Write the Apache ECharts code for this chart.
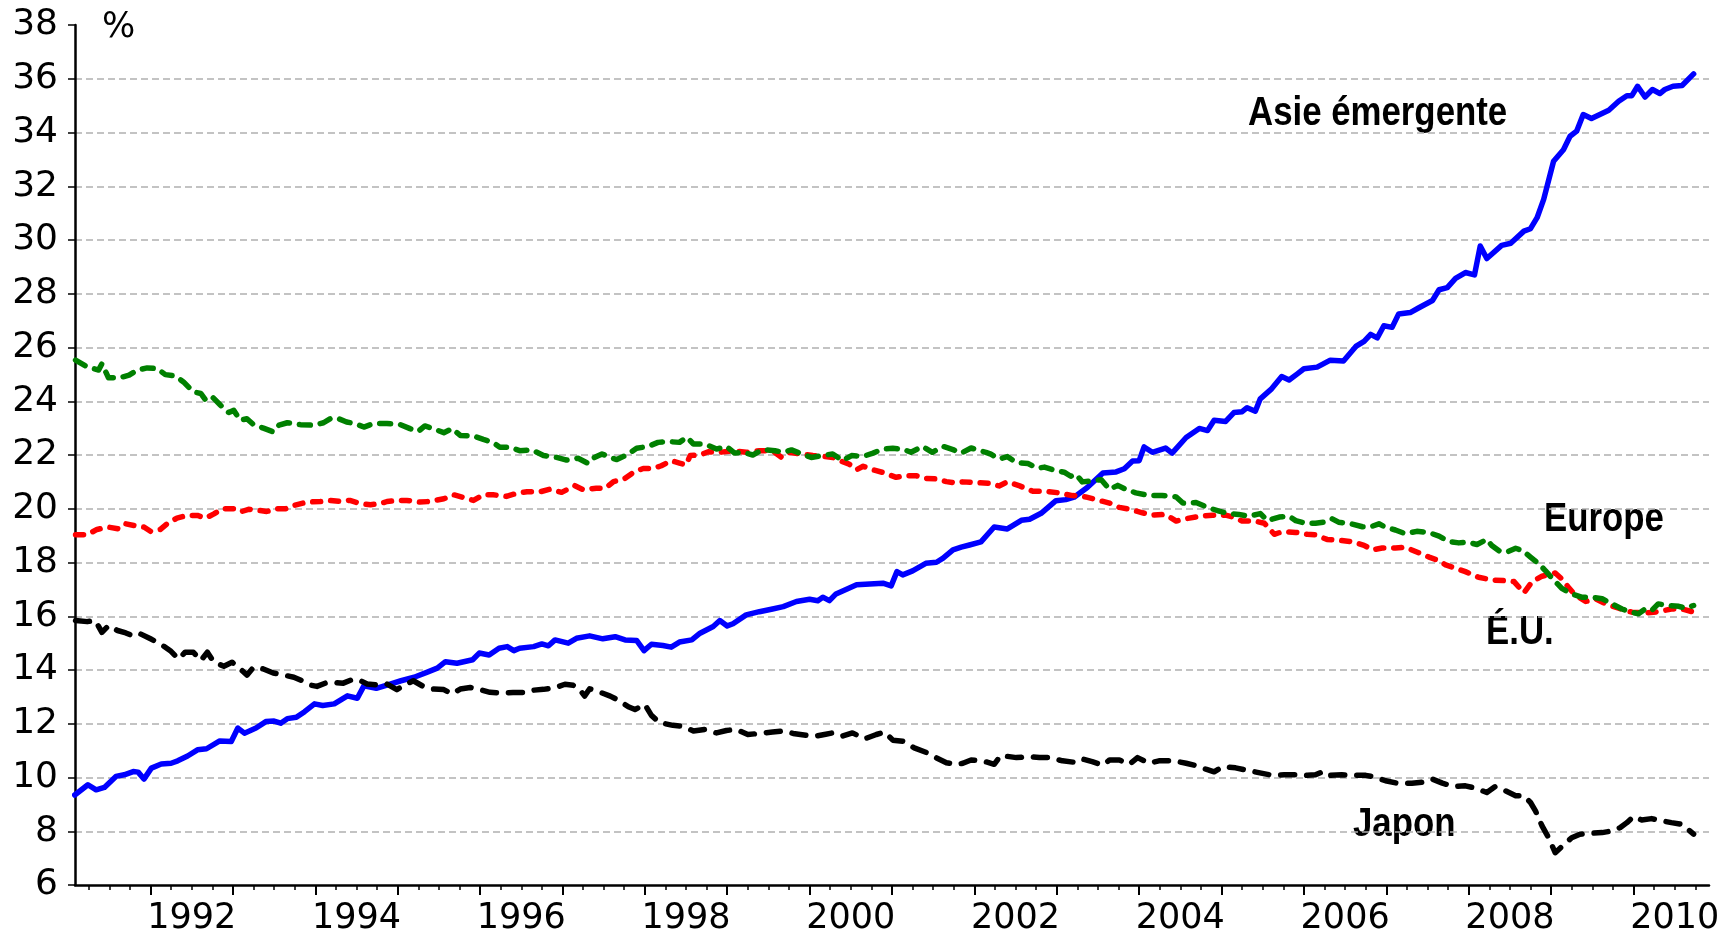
<!DOCTYPE html>
<html><head><meta charset="utf-8">
<script src="https://cdn.jsdelivr.net/npm/echarts@6/dist/echarts.min.js"></script>
<style>html,body{margin:0;padding:0;background:#fff}#chart{width:1733px;height:942px}</style>
</head><body><div id="chart"></div>
<script>
// ---- Data: [year (decimal), percent] ----
const asieEmergente = [
[1991.08,9.35],[1991.24,9.73],[1991.34,9.54],[1991.44,9.63],[1991.58,10.04],[1991.68,10.10],[1991.79,10.22],[1991.85,10.20],[1991.92,9.94],
[1992.01,10.35],[1992.13,10.50],[1992.25,10.53],[1992.33,10.62],[1992.45,10.80],[1992.57,11.03],[1992.68,11.07],[1992.84,11.36],[1992.98,11.34],
[1993.06,11.84],[1993.14,11.65],[1993.28,11.84],[1993.40,12.08],[1993.50,12.10],[1993.58,12.02],[1993.66,12.19],[1993.77,12.24],[1993.87,12.45],[1993.99,12.74],
[1994.09,12.68],[1994.23,12.74],[1994.39,13.04],[1994.51,12.95],[1994.59,13.41],[1994.74,13.32],[1994.88,13.45],
[1995.04,13.60],[1995.20,13.73],[1995.36,13.92],[1995.48,14.07],[1995.58,14.31],[1995.72,14.25],[1995.91,14.38],[1995.99,14.63],
[1996.11,14.56],[1996.23,14.81],[1996.33,14.87],[1996.41,14.72],[1996.48,14.81],[1996.65,14.87],[1996.75,14.97],[1996.83,14.90],[1996.91,15.12],
[1997.07,15.00],[1997.17,15.18],[1997.33,15.27],[1997.49,15.16],[1997.64,15.24],[1997.76,15.12],[1997.90,15.10],[1997.99,14.72],
[1998.08,14.96],[1998.22,14.91],[1998.32,14.85],[1998.42,15.04],[1998.57,15.12],[1998.67,15.37],[1998.83,15.62],[1998.91,15.84],[1999.00,15.64],
[1999.07,15.72],[1999.23,16.05],[1999.39,16.17],[1999.55,16.27],[1999.68,16.36],[1999.84,16.55],[2000.00,16.63],
[2000.10,16.58],[2000.16,16.71],[2000.24,16.58],[2000.32,16.83],[2000.57,17.17],[2000.73,17.20],[2000.89,17.23],[2000.99,17.13],
[2001.06,17.66],[2001.13,17.54],[2001.25,17.69],[2001.41,17.97],[2001.54,18.01],[2001.62,18.16],[2001.74,18.47],[2001.84,18.57],[2001.94,18.65],
[2002.08,18.77],[2002.24,19.32],[2002.40,19.25],[2002.57,19.57],[2002.67,19.61],[2002.81,19.83],[2002.99,20.30],
[2003.11,20.34],[2003.21,20.43],[2003.37,20.79],[2003.56,21.33],[2003.72,21.37],[2003.82,21.49],[2003.92,21.78],[2004.00,21.79],
[2004.06,22.30],[2004.16,22.10],[2004.32,22.26],[2004.40,22.07],[2004.57,22.65],[2004.73,22.99],[2004.83,22.91],[2004.91,23.29],
[2005.05,23.25],[2005.15,23.58],[2005.25,23.61],[2005.31,23.76],[2005.41,23.63],[2005.47,24.09],[2005.60,24.44],[2005.73,24.92],[2005.82,24.79],[2005.92,25.02],
[2006.00,25.21],[2006.16,25.27],[2006.32,25.53],[2006.48,25.50],[2006.63,26.04],[2006.73,26.23],[2006.81,26.49],[2006.89,26.36],[2006.97,26.81],
[2007.07,26.75],[2007.15,27.25],[2007.29,27.30],[2007.39,27.47],[2007.56,27.75],[2007.64,28.15],[2007.74,28.23],[2007.84,28.57],[2007.96,28.79],
[2008.07,28.70],[2008.14,29.78],[2008.22,29.31],[2008.40,29.80],[2008.51,29.88],[2008.67,30.33],[2008.75,30.42],[2008.83,30.83],[2008.91,31.51],
[2009.03,32.93],[2009.15,33.36],[2009.23,33.86],[2009.31,34.05],[2009.39,34.67],[2009.49,34.52],[2009.70,34.83],[2009.82,35.16],[2009.92,35.37],[2009.98,35.37],
[2010.05,35.72],[2010.14,35.32],[2010.23,35.60],[2010.32,35.45],[2010.38,35.60],[2010.48,35.72],[2010.59,35.75],[2010.73,36.18]
];
const europe = [
[1991.09,25.53],[1991.23,25.28],[1991.37,25.16],[1991.41,25.40],[1991.49,24.87],[1991.62,24.87],[1991.74,24.97],[1991.84,25.16],[1991.96,25.24],
[1992.08,25.22],[1992.18,24.99],[1992.30,24.94],[1992.40,24.72],[1992.52,24.35],[1992.61,24.29],[1992.67,24.04],[1992.75,24.16],[1992.85,23.85],[1992.95,23.58],
[1993.01,23.66],[1993.09,23.29],[1993.17,23.35],[1993.25,23.13],[1993.37,23.00],[1993.49,22.86],[1993.56,23.11],[1993.66,23.20],[1993.82,23.13],[1993.98,23.11],
[1994.10,23.20],[1994.18,23.35],[1994.26,23.38],[1994.38,23.23],[1994.48,23.17],[1994.59,23.04],[1994.71,23.17],[1994.87,23.17],
[1995.03,23.13],[1995.15,22.98],[1995.25,22.88],[1995.33,23.08],[1995.43,22.98],[1995.56,22.83],[1995.66,22.98],[1995.76,22.73],[1995.92,22.71],
[1996.04,22.58],[1996.16,22.46],[1996.24,22.29],[1996.36,22.29],[1996.48,22.16],[1996.63,22.19],[1996.77,21.98],[1996.93,21.91],
[1997.05,21.81],[1997.19,21.88],[1997.31,21.69],[1997.37,21.88],[1997.48,22.04],[1997.58,21.91],[1997.66,21.83],[1997.78,22.00],[1997.90,22.25],
[1998.04,22.32],[1998.16,22.47],[1998.28,22.50],[1998.42,22.47],[1998.51,22.66],[1998.59,22.41],[1998.73,22.41],[1998.87,22.22],[1998.99,22.32],
[1999.09,22.07],[1999.19,22.10],[1999.31,22.00],[1999.43,22.20],[1999.58,22.16],[1999.68,22.10],[1999.78,22.19],[1999.90,22.04],
[2000.02,21.91],[2000.16,21.98],[2000.28,22.04],[2000.40,21.79],[2000.51,21.98],[2000.65,21.95],[2000.77,22.07],[2000.89,22.22],
[2001.01,22.25],[2001.13,22.22],[2001.23,22.10],[2001.37,22.32],[2001.49,22.10],[2001.62,22.32],[2001.74,22.20],[2001.84,22.07],[2001.96,22.26],
[2002.14,22.10],[2002.20,22.03],[2002.30,21.85],[2002.40,21.94],[2002.51,21.72],[2002.65,21.68],[2002.77,21.51],[2002.85,21.55],[2002.99,21.42],
[2003.09,21.36],[2003.17,21.21],[2003.23,21.29],[2003.31,21.00],[2003.43,21.04],[2003.54,21.08],[2003.64,20.72],[2003.74,20.87],[2003.84,20.72],[2003.96,20.59],
[2004.12,20.49],[2004.28,20.49],[2004.45,20.44],[2004.53,20.21],[2004.69,20.23],[2004.83,20.05],[2004.97,19.91],
[2005.09,19.82],[2005.21,19.79],[2005.33,19.72],[2005.47,19.82],[2005.56,19.56],[2005.70,19.69],[2005.82,19.72],[2005.90,19.56],
[2006.02,19.46],[2006.14,19.46],[2006.24,19.50],[2006.34,19.63],[2006.42,19.50],[2006.57,19.44],[2006.71,19.33],[2006.81,19.33],[2006.91,19.44],[2006.99,19.31],
[2007.11,19.21],[2007.23,19.07],[2007.37,19.16],[2007.52,19.11],[2007.64,18.98],[2007.76,18.78],[2007.88,18.73],[2007.98,18.76],
[2008.10,18.67],[2008.22,18.86],[2008.28,18.63],[2008.38,18.41],[2008.48,18.41],[2008.57,18.53],[2008.65,18.45],[2008.75,18.20],[2008.85,17.95],[2008.93,17.70],
[2009.01,17.42],[2009.13,17.04],[2009.25,16.83],[2009.37,16.71],[2009.49,16.71],[2009.62,16.65],[2009.74,16.46],[2009.86,16.27],[2009.98,16.15],
[2010.06,16.09],[2010.14,16.27],[2010.22,16.21],[2010.30,16.46],[2010.42,16.40],[2010.55,16.37],[2010.63,16.30],[2010.73,16.40]
];
const etatsUnis = [
[1991.09,19.03],[1991.23,19.03],[1991.35,19.23],[1991.48,19.32],[1991.62,19.25],[1991.70,19.44],[1991.84,19.35],[1991.92,19.32],
[1992.00,19.16],[1992.12,19.23],[1992.20,19.44],[1992.32,19.65],[1992.44,19.75],[1992.57,19.75],[1992.67,19.65],[1992.77,19.81],[1992.87,20.00],
[1993.01,20.00],[1993.09,19.88],[1993.19,19.98],[1993.31,19.94],[1993.41,19.90],[1993.54,20.00],[1993.64,20.00],[1993.74,20.12],[1993.90,20.25],
[1994.06,20.27],[1994.18,20.31],[1994.30,20.27],[1994.42,20.31],[1994.55,20.19],[1994.67,20.15],[1994.79,20.19],[1994.87,20.27],[1994.99,20.31],
[1995.11,20.31],[1995.27,20.25],[1995.39,20.27],[1995.56,20.37],[1995.68,20.52],[1995.82,20.40],[1995.92,20.31],
[1996.04,20.52],[1996.16,20.52],[1996.32,20.46],[1996.45,20.58],[1996.57,20.63],[1996.73,20.63],[1996.85,20.73],[1996.99,20.61],
[1997.15,20.86],[1997.25,20.71],[1997.41,20.76],[1997.52,20.76],[1997.62,21.01],[1997.76,21.13],[1997.86,21.35],[1997.98,21.50],
[1998.10,21.50],[1998.20,21.60],[1998.32,21.79],[1998.42,21.70],[1998.50,21.63],[1998.55,21.98],[1998.67,22.00],[1998.77,22.12],[1998.91,22.10],
[1999.07,22.16],[1999.23,22.10],[1999.39,22.16],[1999.55,22.16],[1999.66,21.91],[1999.76,22.10],[1999.88,22.04],
[2000.04,21.98],[2000.16,21.95],[2000.28,21.91],[2000.40,21.75],[2000.48,21.66],[2000.57,21.45],[2000.65,21.58],[2000.77,21.45],[2000.89,21.35],
[2001.05,21.17],[2001.17,21.23],[2001.29,21.23],[2001.41,21.13],[2001.54,21.11],[2001.66,21.01],[2001.78,20.96],[2001.86,21.00],
[2002.02,20.97],[2002.18,20.95],[2002.30,20.85],[2002.40,21.00],[2002.55,20.85],[2002.71,20.65],[2002.87,20.65],
[2003.03,20.59],[2003.19,20.49],[2003.35,20.44],[2003.49,20.33],[2003.64,20.21],[2003.76,20.05],[2003.90,19.97],
[2004.04,19.85],[2004.16,19.76],[2004.32,19.79],[2004.45,19.54],[2004.57,19.63],[2004.73,19.72],[2004.89,19.76],
[2005.05,19.76],[2005.17,19.67],[2005.25,19.54],[2005.41,19.54],[2005.52,19.46],[2005.64,19.05],[2005.74,19.15],[2005.90,19.12],
[2006.04,19.05],[2006.14,19.03],[2006.28,18.86],[2006.45,18.82],[2006.59,18.77],[2006.73,18.64],[2006.83,18.47],[2006.95,18.54],
[2007.11,18.54],[2007.23,18.57],[2007.37,18.39],[2007.52,18.20],[2007.64,18.07],[2007.72,17.91],[2007.84,17.79],[2007.96,17.66],
[2008.12,17.45],[2008.28,17.35],[2008.42,17.33],[2008.55,17.29],[2008.67,16.87],[2008.77,17.29],[2008.89,17.49],
[2009.05,17.61],[2009.13,17.39],[2009.21,17.08],[2009.29,16.80],[2009.42,16.55],[2009.54,16.65],[2009.66,16.46],[2009.82,16.30],[2009.98,16.15],
[2010.14,16.12],[2010.30,16.17],[2010.46,16.27],[2010.59,16.27],[2010.71,16.17]
];
const japon = [
[1991.09,15.84],[1991.23,15.80],[1991.33,15.84],[1991.41,15.40],[1991.49,15.65],[1991.60,15.47],[1991.70,15.38],[1991.80,15.25],[1991.88,15.34],
[1992.00,15.16],[1992.12,14.97],[1992.24,14.72],[1992.34,14.41],[1992.42,14.66],[1992.52,14.66],[1992.61,14.35],[1992.69,14.66],[1992.77,14.29],[1992.89,14.14],[1992.99,14.29],
[1993.09,14.04],[1993.17,13.81],[1993.25,14.10],[1993.37,14.04],[1993.49,13.89],[1993.62,13.81],[1993.74,13.73],[1993.84,13.60],[1993.94,13.44],
[1994.02,13.39],[1994.12,13.51],[1994.22,13.54],[1994.34,13.51],[1994.46,13.66],[1994.55,13.60],[1994.63,13.48],[1994.75,13.44],[1994.87,13.48],[1994.99,13.27],
[1995.07,13.42],[1995.19,13.60],[1995.31,13.39],[1995.43,13.29],[1995.56,13.27],[1995.66,13.11],[1995.76,13.29],[1995.88,13.35],
[1996.00,13.27],[1996.12,13.17],[1996.24,13.14],[1996.40,13.16],[1996.55,13.16],[1996.65,13.25],[1996.77,13.28],[1996.91,13.34],
[1997.03,13.47],[1997.13,13.43],[1997.19,13.34],[1997.27,13.03],[1997.33,13.30],[1997.45,13.18],[1997.58,13.03],[1997.70,12.84],[1997.80,12.63],[1997.88,12.53],
[1998.00,12.72],[1998.08,12.31],[1998.18,12.04],[1998.34,11.94],[1998.46,11.91],[1998.59,11.73],[1998.73,11.79],[1998.87,11.66],[1998.99,11.75],
[1999.11,11.79],[1999.25,11.60],[1999.39,11.64],[1999.55,11.69],[1999.68,11.73],[1999.80,11.64],[1999.96,11.57],
[2000.08,11.54],[2000.18,11.60],[2000.28,11.66],[2000.40,11.54],[2000.52,11.66],[2000.67,11.44],[2000.81,11.60],[2000.91,11.69],
[2001.01,11.39],[2001.13,11.35],[2001.27,11.10],[2001.41,10.94],[2001.54,10.73],[2001.66,10.55],[2001.78,10.48],[2001.86,10.53],[2001.96,10.65],
[2002.10,10.62],[2002.24,10.49],[2002.32,10.82],[2002.51,10.74],[2002.65,10.78],[2002.79,10.74],[2002.91,10.74],
[2003.07,10.62],[2003.23,10.56],[2003.31,10.69],[2003.43,10.59],[2003.56,10.46],[2003.64,10.65],[2003.76,10.65],[2003.88,10.49],[2003.98,10.74],
[2004.12,10.53],[2004.24,10.62],[2004.42,10.62],[2004.57,10.53],[2004.69,10.44],[2004.81,10.31],[2004.91,10.21],
[2005.01,10.40],[2005.17,10.36],[2005.31,10.27],[2005.45,10.18],[2005.62,10.08],[2005.76,10.10],[2005.90,10.10],
[2006.04,10.08],[2006.14,10.10],[2006.24,10.23],[2006.32,10.08],[2006.46,10.10],[2006.61,10.08],[2006.75,10.08],[2006.87,10.01],[2006.99,9.88],
[2007.13,9.79],[2007.31,9.79],[2007.48,9.84],[2007.56,9.94],[2007.68,9.79],[2007.82,9.66],[2007.96,9.69],
[2008.10,9.59],[2008.22,9.44],[2008.32,9.66],[2008.45,9.50],[2008.57,9.32],[2008.67,9.32],[2008.75,9.07],[2008.81,8.76],[2008.89,8.20],[2008.97,7.76],
[2009.05,7.20],[2009.13,7.43],[2009.25,7.76],[2009.35,7.89],[2009.49,7.93],[2009.62,7.95],[2009.74,8.01],[2009.84,8.14],[2009.92,8.32],
[2010.00,8.55],[2010.10,8.42],[2010.22,8.47],[2010.34,8.39],[2010.46,8.32],[2010.59,8.26],[2010.73,7.89]
];
const seriesNames = ['Asie émergente', 'Europe', 'É.U.', 'Japon'];
const yearTicks = [1992,1993,1994,1995,1996,1997,1998,1999,2000,2001,2002,2003,2004,2005,2006,2007,2008,2009,2010];
const yearLabels = [1992,1994,1996,1998,2000,2002,2004,2006,2008,2010];
const unitLabel = '%';

// ---- Chart ----
const xMin = 1991 + 1/12, xMax = 2010 + 11/12;
const quarterTicks = [];
for (let y = 1991; y <= 2010; y++) [0.25, 0.5, 0.75].forEach(q => { if (y + q > xMin && y + q < xMax) quarterTicks.push(y + q); });
const labelPos = yearLabels.map(y => y + 0.5);

const chart = echarts.init(document.getElementById('chart'), null, {renderer: 'canvas'});
const tickFont = 'DejaVu Sans';
const lineBase = {type: 'line', showSymbol: false, symbol: 'none', smooth: false, animation: false, xAxisIndex: 0, yAxisIndex: 0};
const nameFont = 'bold 40px "Liberation Sans", Arial, sans-serif';
const narrow = 0.87;

chart.setOption({
  backgroundColor: '#ffffff',
  animation: false,
  grid: {left: 75, right: 24, top: 25, bottom: 57, containLabel: false},
  xAxis: [{
    type: 'value', min: xMin, max: xMax, position: 'bottom',
    axisLine: {show: true, onZero: false, lineStyle: {color: '#000', width: 2.5}},
    axisTick: {show: true, inside: false, length: 10, customValues: yearTicks, lineStyle: {color: '#000', width: 2}},
    axisLabel: {show: true, customValues: labelPos, formatter: v => String(Math.floor(v)), color: '#000',
      fontFamily: tickFont, fontSize: 35, margin: 16},
    splitLine: {show: false}
  }, {
    type: 'value', min: xMin, max: xMax, position: 'bottom', gridIndex: 0,
    axisLine: {show: false},
    axisTick: {show: true, inside: false, length: 5, customValues: quarterTicks, lineStyle: {color: '#000', width: 1.5}},
    axisLabel: {show: false},
    splitLine: {show: false}
  }],
  yAxis: {
    type: 'value', min: 6, max: 38, interval: 2,
    axisLine: {show: true, onZero: false, lineStyle: {color: '#000', width: 2.5}},
    axisTick: {show: true, inside: false, length: 7, lineStyle: {color: '#000', width: 1.5}},
    axisLabel: {color: '#000', fontFamily: tickFont, fontSize: 36, margin: 17},
    splitLine: {show: true, showMinLine: false, showMaxLine: false,
      lineStyle: {color: '#b0b0b0', width: 1.5, type: [7, 4]}}
  },
  series: [
    Object.assign({}, lineBase, {name: seriesNames[0], data: asieEmergente, z: 2,
      lineStyle: {color: '#0000ff', width: 5.5, type: 'solid', cap: 'round', join: 'round'}}),
    Object.assign({}, lineBase, {name: seriesNames[2], data: etatsUnis, z: 3,
      lineStyle: {color: '#ff0000', width: 5.5, type: [8, 10], cap: 'round', join: 'round'}}),
    Object.assign({}, lineBase, {name: seriesNames[1], data: europe, z: 4,
      lineStyle: {color: '#008000', width: 5.5, type: [11, 10], cap: 'round', join: 'round'}}),
    Object.assign({}, lineBase, {name: seriesNames[3], data: japon, z: 5,
      lineStyle: {color: '#000000', width: 5.5, type: [14, 12], cap: 'round', join: 'round'}})
  ],
  graphic: [
    {type: 'text', x: 102, y: 28, style: {text: unitLabel, font: '35px "DejaVu Sans"', fill: '#000', align: 'left', verticalAlign: 'middle'}},
    {type: 'text', x: 1248, y: 114, scaleX: narrow, style: {text: seriesNames[0], font: nameFont, fill: '#000', align: 'left', verticalAlign: 'middle'}},
    {type: 'text', x: 1544, y: 520, scaleX: narrow, style: {text: seriesNames[1], font: nameFont, fill: '#000', align: 'left', verticalAlign: 'middle'}},
    {type: 'text', x: 1486, y: 633, scaleX: narrow, style: {text: seriesNames[2], font: nameFont, fill: '#000', align: 'left', verticalAlign: 'middle'}},
    {type: 'text', x: 1353, y: 825, scaleX: narrow, style: {text: seriesNames[3], font: nameFont, fill: '#000', align: 'left', verticalAlign: 'middle'}}
  ]
});
</script>
</body></html>
